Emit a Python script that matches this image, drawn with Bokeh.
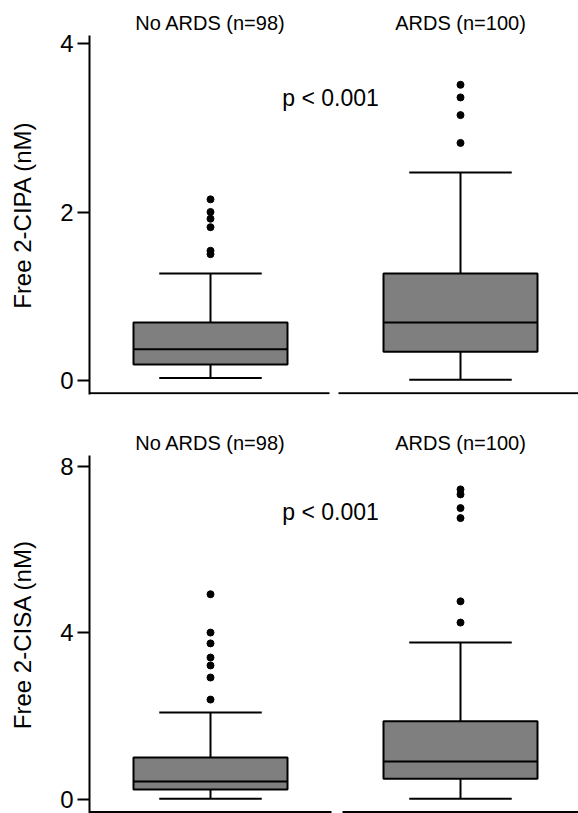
from bokeh.plotting import figure
from bokeh.models import LinearAxis, FixedTicker, Range1d
from bokeh.layouts import column
from bokeh.embed import file_html
from bokeh.resources import INLINE
from bokeh.core.properties import value

# ---------------- data ----------------
groups = ["No ARDS (n=98)", "ARDS (n=100)"]
positions = [1, 2]

# Free 2-CIPA (nM)
cipa_lo = [0.03, 0.01]
cipa_q1 = [0.19, 0.34]
cipa_med = [0.37, 0.69]
cipa_q3 = [0.69, 1.27]
cipa_hi = [1.27, 2.47]
cipa_out_no = [2.15, 2.00, 1.92, 1.82, 1.54, 1.50]
cipa_out_ards = [3.51, 3.36, 3.15, 2.82]
cipa_ticks = [0, 2, 4]

# Free 2-CISA (nM)
cisa_lo = [0.02, 0.02]
cisa_q1 = [0.24, 0.50]
cisa_med = [0.43, 0.91]
cisa_q3 = [1.01, 1.88]
cisa_hi = [2.09, 3.77]
cisa_out_no = [4.93, 4.01, 3.75, 3.41, 3.22, 2.93, 2.40]
cisa_out_ards = [7.45, 7.33, 7.00, 6.76, 4.76, 4.25]
cisa_ticks = [0, 4, 8]

p_text = "p < 0.001"

FONT = "Liberation Sans"
BOX_W = 0.616
CAP_W = 0.41
X_START, X_END = 0.516, 2.472


def make_panel(lo, q1, med, q3, hi, out_no, out_ards, ticks, ylabel,
               y_start, y_end, axis_y, p_y, gap, height, top, bottom):
    p = figure(width=578, height=height, output_backend="svg",
               toolbar_location=None, x_axis_location=None,
               x_range=Range1d(X_START, X_END), y_range=Range1d(y_start, y_end),
               min_border_left=89, min_border_right=0,
               min_border_top=top, min_border_bottom=bottom)
    p.outline_line_color = None
    p.xgrid.grid_line_color = None
    p.ygrid.grid_line_color = None
    p.background_fill_color = "white"
    p.border_fill_color = "white"

    # y axis
    ya = p.yaxis[0]
    ya.ticker = FixedTicker(ticks=ticks)
    ya.minor_tick_line_color = None
    ya.major_tick_in = 0
    ya.major_tick_out = 12
    ya.major_tick_line_width = 2
    ya.major_tick_line_color = "black"
    ya.axis_line_width = 2
    ya.axis_line_color = "black"
    ya.major_label_text_font = FONT
    ya.major_label_text_font_size = "24px"
    ya.major_label_text_color = "black"
    ya.major_label_standoff = 4
    ya.axis_label = ylabel
    ya.axis_label_text_font = FONT
    ya.axis_label_text_font_size = "24px"
    ya.axis_label_text_font_style = "normal"
    ya.axis_label_text_color = "black"
    ya.axis_label_standoff = 21

    # group labels on top
    ta = LinearAxis(ticker=FixedTicker(ticks=positions),
                    major_label_overrides={pos: g for pos, g in zip(positions, groups)})
    ta.axis_line_color = None
    ta.major_tick_line_color = None
    ta.minor_tick_line_color = None
    ta.major_tick_out = 0
    ta.major_tick_in = 0
    ta.major_label_standoff = 2
    ta.major_label_text_font = FONT
    ta.major_label_text_font_size = "20px"
    ta.major_label_text_color = "black"
    p.add_layout(ta, "above")

    # broken baseline (one per group)
    p.segment(x0=[X_START, gap[1]], x1=[gap[0], X_END], y0=[axis_y, axis_y],
              y1=[axis_y, axis_y], line_color="black", line_width=2)

    left = [x - BOX_W / 2 for x in positions]
    right = [x + BOX_W / 2 for x in positions]
    cl = [x - CAP_W / 2 for x in positions]
    cr = [x + CAP_W / 2 for x in positions]

    # whiskers
    p.segment(x0=positions, x1=positions, y0=q3, y1=hi, line_color="black", line_width=2)
    p.segment(x0=positions, x1=positions, y0=q1, y1=lo, line_color="black", line_width=2)
    p.segment(x0=cl, x1=cr, y0=hi, y1=hi, line_color="black", line_width=2)
    p.segment(x0=cl, x1=cr, y0=lo, y1=lo, line_color="black", line_width=2)
    # boxes
    p.quad(left=left, right=right, bottom=q1, top=q3, fill_color="#7f7f7f",
           line_color="black", line_width=2)
    p.segment(x0=left, x1=right, y0=med, y1=med, line_color="black", line_width=2)
    # outliers
    p.scatter(x=[positions[0]] * len(out_no), y=out_no, size=7,
              fill_color="black", line_color="black")
    p.scatter(x=[positions[1]] * len(out_ards), y=out_ards, size=7,
              fill_color="black", line_color="black")

    p.text(x=[1.48], y=[p_y], text=[p_text], text_font=value(FONT),
           text_font_size="23px", text_align="center", text_baseline="middle",
           text_color="black")
    return p


p1 = make_panel(cipa_lo, cipa_q1, cipa_med, cipa_q3, cipa_hi, cipa_out_no,
                cipa_out_ards, cipa_ticks, "Free 2-CIPA (nM)",
                -0.166, 4.095, -0.152, 3.35, (1.476, 1.512), 410, 35, 16)
p2 = make_panel(cisa_lo, cisa_q1, cisa_med, cisa_q3, cisa_hi, cisa_out_no,
                cisa_out_ards, cisa_ticks, "Free 2-CISA (nM)",
                -0.337, 8.264, -0.30, 6.9, (1.484, 1.528), 403, 45, 0)

layout = column(p1, p2, spacing=0)
open("out.html", "w").write(file_html(layout, INLINE))
